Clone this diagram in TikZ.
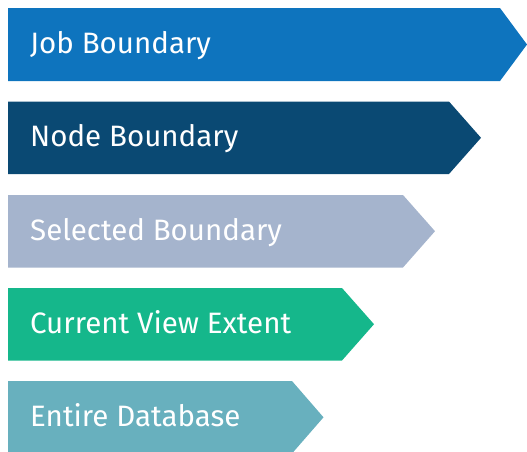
\documentclass[tikz,border=0pt]{standalone}
\usepackage{fontspec}
\setmainfont{Fira Sans}
\definecolor{jobblue}{RGB}{14,116,190}
\definecolor{nodeblue}{RGB}{10,73,115}
\definecolor{selgray}{RGB}{165,180,205}
\definecolor{viewgreen}{RGB}{21,183,139}
\definecolor{dbteal}{RGB}{104,176,190}
\begin{document}
\begin{tikzpicture}[x=1pt,y=-1pt,
  lbl/.style={anchor=base west,inner sep=0pt,text=white,font=\fontsize{29.5}{30}\selectfont}]
\useasboundingbox (0,0) rectangle (527,451);
\clip (0,0) rectangle (527,451);
% arrows: top, body end, tip
\fill[jobblue]   (8,8)     -- (500,8)     -- (527,44.5)  -- (500,81)    -- (8,81) -- cycle;
\fill[nodeblue]  (8,101.5) -- (449,101.5) -- (481,137.8) -- (449,174)   -- (8,174) -- cycle;
\fill[selgray]   (8,195)   -- (403,195)   -- (435,231.2) -- (403,267.5) -- (8,267.5) -- cycle;
\fill[viewgreen] (8,288)   -- (342,288)   -- (374,324.2) -- (342,360.5) -- (8,360.5) -- cycle;
\fill[dbteal]    (8,381)   -- (292,381)   -- (323.5,417.3) -- (292,453.5) -- (8,453.5) -- cycle;
\node[lbl] (job)  at (30,53.3)  {Job Boundary};
\node[lbl] (node) at (30,146.6) {Node Boundary};
\node[lbl] (sel)  at (30,240)   {Selected Boundary};
\node[lbl] (view) at (30,333.3) {Current View Extent};
\node[lbl] (db)   at (30,426.5) {Entire Database};
\end{tikzpicture}
\end{document}
